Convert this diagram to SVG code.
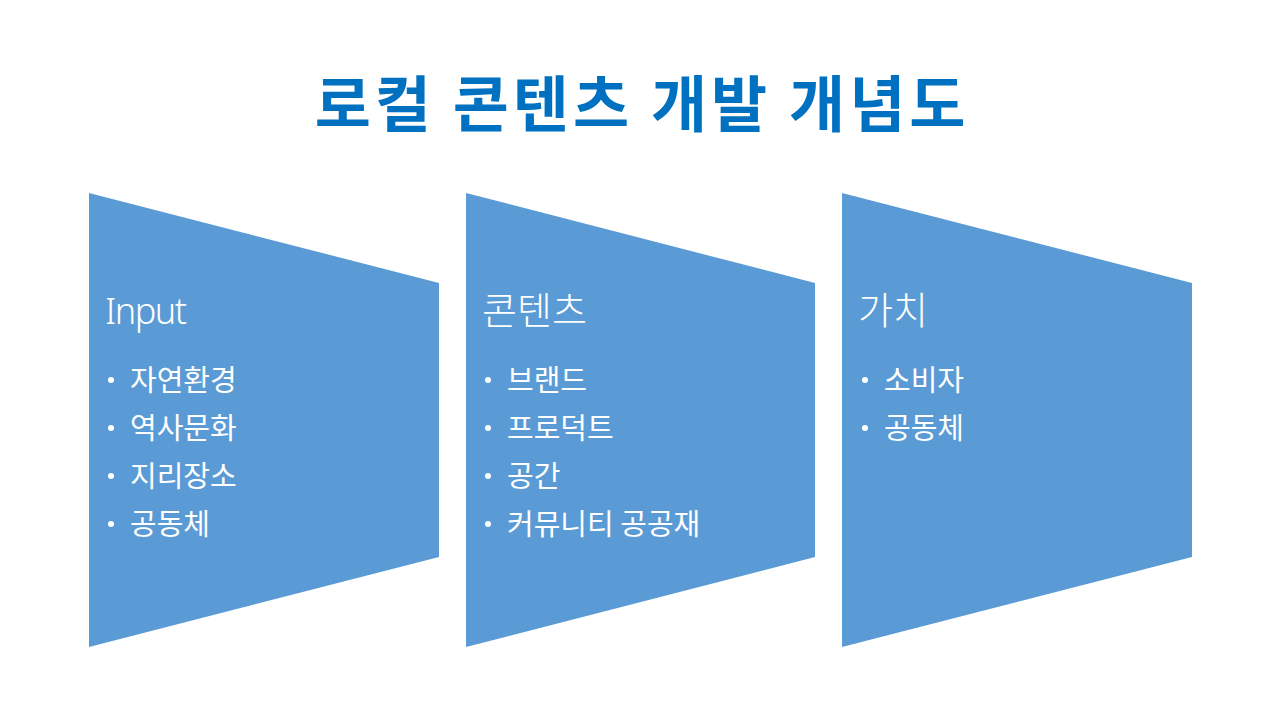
<svg xmlns="http://www.w3.org/2000/svg" width="1280" height="720" viewBox="0 0 1280 720">
  <style>
    .shape { fill: #5B9BD5; }
    .title { font-family: "Noto Sans CJK KR", "Noto Sans", sans-serif; font-weight: 700; font-size: 61px; letter-spacing: 4px; fill: #0070C0; }
    .head { font-family: "Noto Sans", "Noto Sans CJK KR", sans-serif; font-weight: 300; font-size: 36px; fill: #FFFFFF; }
    .headk { font-family: "Noto Sans CJK KR", "Noto Sans", sans-serif; font-weight: 300; font-size: 38px; fill: #FFFFFF; }
    .item { font-family: "Noto Sans CJK KR", "Noto Sans", sans-serif; font-weight: 400; font-size: 29px; fill: #FFFFFF; }
    .dot { fill: #FFFFFF; }
  </style>
  <rect width="1280" height="720" fill="#FFFFFF"/>
  <text class="title" x="642" y="127" text-anchor="middle">로컬 콘텐츠 개발 개념도</text>

  <g id="node-input">
    <polygon class="shape" points="89,193 439,283 439,557 89,647"/>
    <text class="head" x="105" y="324" letter-spacing="-1.5">Input</text>
    <circle class="dot" cx="111" cy="380" r="3"/>
    <text class="item" x="130" y="391">자연환경</text>
    <circle class="dot" cx="111" cy="428" r="3"/>
    <text class="item" x="130" y="439">역사문화</text>
    <circle class="dot" cx="111" cy="476" r="3"/>
    <text class="item" x="130" y="487">지리장소</text>
    <circle class="dot" cx="111" cy="524" r="3"/>
    <text class="item" x="130" y="535">공동체</text>
  </g>

  <g id="node-contents">
    <polygon class="shape" points="466,193 815,283 815,557 466,647"/>
    <text class="headk" x="482" y="324">콘텐츠</text>
    <circle class="dot" cx="488" cy="380" r="3"/>
    <text class="item" x="507" y="391">브랜드</text>
    <circle class="dot" cx="488" cy="428" r="3"/>
    <text class="item" x="507" y="439">프로덕트</text>
    <circle class="dot" cx="488" cy="476" r="3"/>
    <text class="item" x="507" y="487">공간</text>
    <circle class="dot" cx="488" cy="524" r="3"/>
    <text class="item" x="507" y="535">커뮤니티 공공재</text>
  </g>

  <g id="node-value">
    <polygon class="shape" points="842,193 1192,283 1192,557 842,647"/>
    <text class="headk" x="858" y="324">가치</text>
    <circle class="dot" cx="865" cy="380" r="3"/>
    <text class="item" x="884" y="391">소비자</text>
    <circle class="dot" cx="865" cy="428" r="3"/>
    <text class="item" x="884" y="439">공동체</text>
  </g>

  <g id="connectors"></g>
</svg>
